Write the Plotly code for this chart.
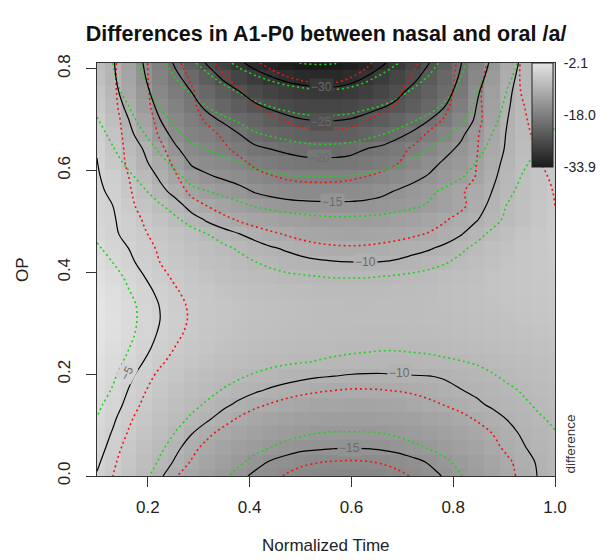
import numpy as np
import plotly.graph_objects as go

# ---- grid coordinates (Normalized Time, OP) ----
x_grid = [0.1, 0.131, 0.162, 0.193, 0.224, 0.255, 0.286, 0.317, 0.348, 0.379,
          0.41, 0.441, 0.472, 0.503, 0.534, 0.566, 0.597, 0.628, 0.659, 0.69,
          0.721, 0.752, 0.783, 0.814, 0.845, 0.876, 0.907, 0.938, 0.969, 1.0]
y_grid = [0.0, 0.028, 0.056, 0.084, 0.112, 0.14, 0.168, 0.196, 0.224, 0.252,
          0.28, 0.308, 0.336, 0.364, 0.392, 0.419, 0.447, 0.475, 0.503, 0.531,
          0.559, 0.587, 0.615, 0.643, 0.671, 0.699, 0.727, 0.755, 0.783, 0.811]

# ---- estimated difference surface (rows = OP, cols = time) ----
diff_rows = [
    [-5.1,-6.0,-7.3,-8.6,-9.8,-10.9,-11.9,-12.8,-13.7,-14.6,-15.3,-15.7,-16.1,-16.4,-16.6,-16.75,-16.85,-16.8,-16.6,-16.3,-15.9,-15.4,-14.9,-14.1,-13.2,-12.3,-11.4,-10.6,-9.9,-9.3],
    [-4.8,-5.7,-6.9,-8.1,-9.2,-10.2,-11.1,-12.0,-12.9,-13.7,-14.5,-15.1,-15.5,-15.8,-15.95,-16.05,-16.1,-16.05,-15.9,-15.65,-15.3,-14.9,-14.3,-13.6,-12.8,-12.0,-11.2,-10.5,-9.8,-9.2],
    [-4.5,-5.4,-6.5,-7.6,-8.7,-9.7,-10.6,-11.4,-12.2,-12.9,-13.5,-14.0,-14.4,-14.7,-14.8,-14.9,-14.95,-14.9,-14.8,-14.6,-14.3,-13.9,-13.4,-12.8,-12.1,-11.4,-10.7,-10.1,-9.5,-9.1],
    [-4.25,-5.1,-6.1,-7.1,-8.1,-9.1,-9.95,-10.7,-11.4,-12.0,-12.6,-13.1,-13.5,-13.8,-14.0,-14.1,-14.1,-14.1,-14.0,-13.8,-13.5,-13.1,-12.7,-12.2,-11.6,-11.0,-10.4,-9.8,-9.3,-9.0],
    [-4.0,-4.8,-5.75,-6.7,-7.6,-8.45,-9.25,-9.85,-10.5,-11.15,-11.7,-12.15,-12.5,-12.8,-13.0,-13.1,-13.1,-13.1,-13.0,-12.85,-12.6,-12.25,-11.85,-11.4,-10.9,-10.4,-9.95,-9.45,-9.1,-8.8],
    [-3.7,-4.45,-5.35,-6.25,-7.1,-7.9,-8.6,-9.2,-9.75,-10.25,-10.7,-11.1,-11.45,-11.75,-11.95,-12.05,-12.1,-12.1,-12.0,-11.85,-11.6,-11.3,-10.95,-10.6,-10.2,-9.85,-9.5,-9.15,-8.85,-8.6],
    [-3.35,-4.1,-5.05,-5.9,-6.7,-7.4,-8.05,-8.6,-9.1,-9.5,-9.85,-10.15,-10.4,-10.65,-10.85,-11.0,-11.1,-11.1,-11.05,-10.95,-10.8,-10.55,-10.3,-10.05,-9.8,-9.5,-9.2,-8.9,-8.6,-8.3],
    [-3.0,-3.8,-4.7,-5.55,-6.3,-6.95,-7.55,-8.05,-8.5,-8.85,-9.15,-9.4,-9.6,-9.75,-9.9,-10.0,-10.1,-10.15,-10.15,-10.1,-10.05,-10.02,-9.9,-9.65,-9.4,-9.1,-8.8,-8.5,-8.25,-8.0],
    [-2.7,-3.45,-4.3,-5.05,-5.8,-6.45,-7.0,-7.5,-7.9,-8.25,-8.5,-8.7,-8.85,-8.95,-9.05,-9.15,-9.25,-9.3,-9.35,-9.35,-9.3,-9.25,-9.15,-9.05,-8.9,-8.7,-8.45,-8.2,-7.95,-7.7],
    [-2.4,-3.15,-3.95,-4.7,-5.4,-6.05,-6.6,-7.05,-7.45,-7.8,-8.05,-8.25,-8.4,-8.55,-8.65,-8.75,-8.8,-8.85,-8.9,-8.9,-8.85,-8.8,-8.7,-8.55,-8.4,-8.2,-8.0,-7.8,-7.6,-7.4],
    [-2.2,-2.9,-3.7,-4.45,-5.15,-5.75,-6.3,-6.75,-7.15,-7.45,-7.7,-7.9,-8.05,-8.2,-8.3,-8.4,-8.45,-8.5,-8.5,-8.5,-8.45,-8.4,-8.3,-8.15,-8.0,-7.8,-7.6,-7.4,-7.25,-7.1],
    [-2.1,-2.8,-3.6,-4.35,-5.0,-5.6,-6.15,-6.6,-7.0,-7.3,-7.55,-7.75,-7.95,-8.1,-8.2,-8.25,-8.3,-8.3,-8.3,-8.3,-8.25,-8.15,-8.05,-7.9,-7.75,-7.55,-7.4,-7.2,-7.05,-6.9],
    [-2.15,-2.85,-3.65,-4.4,-5.05,-5.65,-6.2,-6.65,-7.05,-7.35,-7.6,-7.8,-8.0,-8.15,-8.25,-8.3,-8.35,-8.35,-8.3,-8.25,-8.2,-8.1,-7.95,-7.8,-7.6,-7.4,-7.2,-7.0,-6.85,-6.7],
    [-2.4,-3.1,-3.95,-4.65,-5.3,-5.9,-6.45,-6.9,-7.3,-7.6,-7.85,-8.1,-8.3,-8.45,-8.55,-8.6,-8.6,-8.6,-8.55,-8.45,-8.35,-8.2,-8.0,-7.8,-7.55,-7.3,-7.05,-6.85,-6.65,-6.5],
    [-2.8,-3.5,-4.3,-5.0,-5.65,-6.25,-6.8,-7.3,-7.7,-8.05,-8.35,-8.6,-8.8,-8.9,-9.0,-9.05,-9.05,-9.05,-9.0,-8.9,-8.75,-8.55,-8.3,-8.0,-7.7,-7.35,-7.05,-6.75,-6.5,-6.35],
    [-3.2,-3.95,-4.7,-5.4,-6.05,-6.65,-7.2,-7.7,-8.15,-8.55,-8.9,-9.2,-9.45,-9.65,-9.8,-9.9,-9.95,-9.97,-9.95,-9.85,-9.65,-9.4,-9.05,-8.6,-8.15,-7.65,-7.2,-6.8,-6.45,-6.2],
    [-3.7,-4.4,-5.0,-5.65,-6.3,-6.95,-7.55,-8.1,-8.6,-9.05,-9.45,-9.85,-10.15,-10.45,-10.7,-10.85,-10.9,-10.85,-10.7,-10.5,-10.3,-10.1,-9.75,-9.2,-8.6,-8.0,-7.4,-6.9,-6.45,-6.1],
    [-4.1,-4.75,-5.4,-6.05,-6.75,-7.45,-8.15,-8.8,-9.4,-9.95,-10.45,-10.9,-11.3,-11.65,-11.9,-12.05,-12.1,-12.05,-11.9,-11.7,-11.4,-11.1,-10.6,-10.1,-9.35,-8.6,-7.85,-7.2,-6.55,-6.0],
    [-4.4,-4.85,-5.6,-6.5,-7.45,-8.35,-9.3,-10.2,-10.9,-11.5,-12.0,-12.4,-12.75,-13.0,-13.2,-13.3,-13.3,-13.25,-13.1,-12.85,-12.5,-12.05,-11.45,-10.75,-10.1,-9.3,-8.5,-7.7,-6.9,-6.05],
    [-4.6,-5.0,-6.1,-7.2,-8.25,-9.3,-10.7,-11.6,-12.3,-12.95,-13.6,-14.0,-14.3,-14.45,-14.55,-14.6,-14.6,-14.5,-14.35,-14.1,-13.75,-13.25,-12.6,-11.85,-10.7,-9.6,-8.6,-7.7,-6.9,-6.15],
    [-4.75,-5.25,-6.6,-7.9,-9.4,-10.7,-12.4,-13.1,-13.7,-14.35,-15.15,-15.6,-15.9,-16.05,-16.1,-16.1,-16.0,-15.8,-15.4,-14.85,-14.3,-13.6,-12.8,-11.95,-11.1,-10.0,-8.9,-7.9,-7.0,-6.25],
    [-4.85,-5.55,-7.2,-8.7,-10.3,-12.0,-13.8,-14.7,-15.25,-15.8,-16.6,-17.1,-17.45,-17.65,-17.7,-17.65,-17.5,-17.2,-16.8,-16.2,-15.5,-14.8,-13.95,-13.1,-11.95,-10.4,-9.1,-8.0,-7.1,-6.35],
    [-4.95,-6.3,-8.0,-9.6,-11.3,-13.3,-15.3,-15.9,-16.5,-17.2,-18.1,-18.6,-19.0,-19.3,-19.4,-19.35,-19.2,-18.9,-18.45,-17.8,-16.8,-15.7,-14.7,-13.9,-12.5,-10.85,-9.3,-8.1,-7.2,-6.5],
    [-5.1,-6.8,-8.6,-10.2,-12.5,-14.7,-16.3,-17.0,-17.8,-18.7,-19.6,-20.05,-20.5,-20.9,-21.15,-21.1,-20.8,-20.05,-19.6,-18.8,-17.9,-16.9,-15.7,-14.6,-13.1,-11.4,-9.6,-8.3,-7.4,-6.65],
    [-5.5,-7.3,-9.3,-11.4,-13.9,-15.9,-17.3,-18.0,-18.9,-19.95,-21.1,-21.7,-22.3,-22.8,-23.05,-23.1,-22.85,-22.3,-21.5,-20.6,-19.6,-18.3,-17.0,-15.5,-13.7,-11.7,-9.75,-8.5,-7.6,-6.8],
    [-6.0,-7.9,-9.95,-12.4,-14.95,-16.7,-18.2,-19.35,-20.3,-21.3,-22.3,-23.3,-24.2,-24.85,-25.1,-25.1,-24.85,-24.2,-23.3,-22.3,-21.2,-20.05,-18.75,-16.9,-14.6,-12.3,-10.0,-8.7,-7.75,-6.95],
    [-6.6,-8.6,-10.7,-13.5,-15.8,-17.6,-19.2,-20.55,-21.9,-23.3,-24.6,-25.6,-26.4,-26.95,-27.2,-27.15,-26.75,-26.1,-25.35,-24.45,-23.2,-21.7,-20.1,-18.1,-15.05,-12.6,-10.2,-8.9,-7.9,-7.1],
    [-7.2,-9.1,-11.5,-14.2,-16.6,-18.6,-20.05,-21.6,-23.3,-24.95,-26.3,-27.4,-28.3,-28.9,-29.25,-29.3,-28.9,-28.1,-27.0,-25.7,-24.25,-22.7,-21.0,-19.1,-15.6,-12.9,-10.4,-9.0,-8.0,-7.2],
    [-7.8,-9.5,-12.0,-14.8,-17.3,-19.4,-21.3,-23.3,-25.5,-27.3,-28.7,-29.85,-30.8,-31.35,-31.6,-31.5,-31.0,-29.95,-28.6,-27.2,-25.7,-23.9,-21.8,-19.7,-16.6,-13.6,-10.75,-9.2,-8.15,-7.35],
    [-8.4,-9.7,-12.5,-15.25,-17.9,-20.5,-22.9,-25.35,-27.5,-29.5,-31.0,-32.2,-33.1,-33.7,-33.9,-33.75,-33.1,-32.0,-30.5,-28.8,-27.0,-25.1,-22.9,-20.2,-17.35,-14.4,-11.3,-9.4,-8.25,-7.5],
]

# ---- estimated confidence half-width of the difference (rows = OP) ----
ci_rows = [
    [1.05,1.0,1.0,1.0,1.0,1.0,1.0,1.0,1.0,1.0,1.0,1.0,1.0,1.0,1.0,1.0,1.0,1.0,1.0,1.0,1.0,1.0,1.0,1.0,1.0,1.0,1.0,1.0,1.0,1.05],
    [1.05,1.0,1.0,1.0,1.0,1.0,1.0,1.0,1.0,1.0,1.0,1.0,1.0,1.0,1.0,1.0,1.0,1.0,1.0,1.0,1.0,1.0,1.0,1.0,1.0,1.0,1.0,1.0,1.0,1.05],
    [1.05,1.0,1.0,1.0,1.0,1.0,1.0,1.0,1.0,1.0,1.0,1.0,1.0,1.0,1.0,1.0,1.0,1.0,1.0,1.0,1.0,1.0,1.0,1.0,1.0,1.0,1.0,1.0,1.0,1.05],
    [1.05,1.0,1.0,1.0,1.0,1.0,1.0,1.0,1.0,1.0,1.0,1.0,1.0,1.0,1.0,1.0,1.0,1.0,1.0,1.0,1.0,1.0,1.0,1.0,1.0,1.0,1.0,1.0,1.0,1.05],
    [1.05,1.0,1.0,1.0,1.0,1.0,1.0,1.0,1.0,1.0,1.0,1.0,1.0,1.0,1.0,1.0,1.0,1.0,1.0,1.0,1.0,1.0,1.0,1.0,1.0,1.0,1.0,1.0,1.0,1.05],
    [1.05,1.0,1.0,1.0,1.0,1.0,1.0,1.0,1.0,1.0,1.0,1.0,1.0,1.0,1.0,1.0,1.0,1.0,1.0,1.0,1.0,1.0,1.0,1.0,1.0,1.0,1.0,1.0,1.0,1.05],
    [1.05,1.0,1.0,1.0,1.0,1.0,1.0,1.0,1.0,1.0,1.0,1.0,1.0,1.0,1.0,1.0,1.0,1.0,1.0,1.0,1.0,1.0,1.0,1.0,1.0,1.0,1.0,1.0,1.0,1.05],
    [1.05,1.0,1.0,1.0,1.0,1.0,1.0,1.0,1.0,1.0,1.0,1.0,1.0,1.0,1.0,1.0,1.0,1.0,1.0,1.0,1.0,1.0,1.0,1.0,1.0,1.0,1.0,1.0,1.0,1.05],
    [1.05,1.0,1.0,1.0,1.0,1.0,1.0,1.0,1.0,1.0,1.0,1.0,1.0,1.0,1.0,1.0,1.0,1.0,1.0,1.0,1.0,1.0,1.0,1.0,1.0,1.0,1.0,1.0,1.0,1.05],
    [1.05,1.0,1.0,1.0,1.0,1.0,1.0,1.0,1.0,1.0,1.0,1.0,1.0,1.0,1.0,1.0,1.0,1.0,1.0,1.0,1.0,1.0,1.0,1.0,1.0,1.0,1.0,1.0,1.0,1.05],
    [1.05,1.0,1.0,1.0,1.0,1.0,1.0,1.0,1.0,1.0,1.0,1.0,1.0,1.0,1.0,1.0,1.0,1.0,1.0,1.0,1.0,1.0,1.0,1.0,1.0,1.0,1.0,1.0,1.0,1.05],
    [1.05,1.0,1.0,1.0,1.0,1.0,1.0,1.0,1.0,1.0,1.0,1.0,1.0,1.0,1.0,1.0,1.0,1.0,1.0,1.0,1.0,1.0,1.0,1.0,1.0,1.0,1.0,1.0,1.0,1.05],
    [1.05,1.0,1.0,1.0,1.0,1.0,1.0,1.0,1.0,1.0,1.0,1.0,1.0,1.0,1.0,1.0,1.0,1.0,1.0,1.0,1.0,1.0,1.0,1.0,1.0,1.0,1.0,1.0,1.0,1.05],
    [1.05,1.0,1.0,1.0,1.0,1.0,1.0,1.0,1.0,1.0,1.0,1.0,1.0,1.0,1.0,1.0,1.0,1.0,1.0,1.0,1.0,1.0,1.0,1.0,1.0,1.0,1.0,1.0,1.0,1.05],
    [1.05,1.0,1.0,1.0,1.0,1.0,1.0,1.0,1.0,1.0,1.0,1.0,1.0,1.0,1.0,1.0,1.0,1.0,1.0,1.0,1.0,1.0,1.0,1.0,1.0,1.0,1.0,1.0,1.0,1.05],
    [1.05,1.05,1.05,1.05,1.05,1.05,1.05,1.05,1.05,1.05,1.05,1.05,1.05,1.05,1.05,1.05,1.05,1.05,1.05,1.05,1.05,1.05,1.05,1.04,1.04,1.03,1.02,1.02,1.01,1.0],
    [1.1,1.1,1.1,1.1,1.1,1.1,1.1,1.1,1.1,1.1,1.1,1.1,1.1,1.1,1.1,1.1,1.1,1.1,1.1,1.1,1.1,1.1,1.09,1.08,1.06,1.05,1.04,1.03,1.01,1.0],
    [1.2,1.2,1.2,1.2,1.2,1.2,1.2,1.2,1.2,1.2,1.2,1.2,1.2,1.2,1.2,1.2,1.2,1.2,1.2,1.2,1.2,1.2,1.18,1.15,1.13,1.1,1.08,1.05,1.03,1.0],
    [1.35,1.35,1.35,1.35,1.35,1.35,1.35,1.35,1.35,1.35,1.35,1.35,1.35,1.35,1.35,1.35,1.35,1.35,1.35,1.35,1.35,1.35,1.31,1.28,1.24,1.2,1.16,1.13,1.09,1.05],
    [1.55,1.55,1.55,1.55,1.55,1.55,1.55,1.55,1.55,1.55,1.55,1.55,1.55,1.55,1.55,1.55,1.55,1.55,1.55,1.55,1.55,1.55,1.5,1.45,1.4,1.35,1.3,1.25,1.2,1.15],
    [1.85,1.85,1.85,1.85,1.85,1.85,1.85,1.85,1.85,1.85,1.85,1.85,1.85,1.85,1.85,1.85,1.85,1.85,1.85,1.85,1.85,1.85,1.79,1.73,1.66,1.6,1.54,1.48,1.41,1.35],
    [2.2,2.21,2.22,2.23,2.23,2.24,2.25,2.25,2.25,2.25,2.25,2.25,2.25,2.25,2.25,2.25,2.25,2.25,2.25,2.25,2.25,2.25,2.18,2.1,2.03,1.95,1.88,1.8,1.73,1.65],
    [2.6,2.62,2.63,2.65,2.67,2.68,2.7,2.7,2.7,2.7,2.7,2.7,2.7,2.7,2.7,2.7,2.7,2.7,2.7,2.7,2.7,2.7,2.62,2.54,2.46,2.38,2.29,2.21,2.13,2.05],
    [3.0,3.03,3.05,3.08,3.1,3.13,3.15,3.15,3.15,3.15,3.15,3.15,3.15,3.15,3.15,3.15,3.15,3.15,3.15,3.15,3.15,3.15,3.07,2.99,2.91,2.83,2.74,2.66,2.58,2.5],
    [3.4,3.43,3.47,3.5,3.53,3.57,3.6,3.6,3.6,3.6,3.6,3.6,3.6,3.6,3.6,3.6,3.6,3.6,3.6,3.6,3.6,3.6,3.52,3.44,3.36,3.28,3.19,3.11,3.03,2.95],
    [3.8,3.84,3.88,3.93,3.97,4.01,4.05,4.05,4.05,4.05,4.05,4.05,4.05,4.05,4.05,4.05,4.05,4.05,4.05,4.05,4.05,4.05,3.96,3.86,3.77,3.68,3.58,3.49,3.39,3.3],
    [4.15,4.23,4.3,4.38,4.45,4.53,4.6,4.6,4.6,4.6,4.6,4.6,4.6,4.6,4.6,4.6,4.6,4.6,4.6,4.6,4.6,4.6,4.48,4.35,4.23,4.1,3.98,3.85,3.73,3.6],
    [4.5,4.63,4.77,4.9,5.03,5.17,5.3,5.3,5.3,5.3,5.3,5.3,5.3,5.3,5.3,5.3,5.3,5.3,5.3,5.3,5.3,5.3,5.12,4.94,4.76,4.58,4.39,4.21,4.03,3.85],
    [4.8,4.98,5.17,5.35,5.53,5.72,5.9,5.9,5.9,5.9,5.9,5.9,5.9,5.9,5.9,5.9,5.9,5.9,5.9,5.9,5.9,5.9,5.67,5.44,5.21,4.98,4.74,4.51,4.28,4.05],
    [5.1,5.32,5.53,5.75,5.97,6.18,6.4,6.4,6.4,6.4,6.4,6.4,6.4,6.4,6.4,6.4,6.4,6.4,6.4,6.4,6.4,6.4,6.13,5.85,5.58,5.3,5.03,4.75,4.48,4.2],
]

x_ticks = [0.2, 0.4, 0.6, 0.8, 1.0]
x_ticklabels = ["0.2", "0.4", "0.6", "0.8", "1.0"]
y_ticks = [0.0, 0.2, 0.4, 0.6, 0.8]
y_ticklabels = ["0.0", "0.2", "0.4", "0.6", "0.8"]
legend_vals = [-33.9, -18.0, -2.1]
legend_labels = ["-33.9", "-18.0", "-2.1"]

# contour label levels and where R put them (layout only)
label_levels = [-5, -10, -10, -15, -15, -20, -25, -30]
label_pos_x = [0.159, 0.627, 0.695, 0.562, 0.597, 0.538, 0.542, 0.542]
label_pos_y = [0.202, 0.420, 0.202, 0.539, 0.055, 0.624, 0.696, 0.763]
label_angle = [-62, 0, 0, 0, 0, 0, 0, 0]

z = np.array(diff_rows, dtype=float)
ci = np.array(ci_rows, dtype=float)
z_hi = z + ci
z_lo = z - ci

FONT = "Liberation Sans, Arial, sans-serif"
ZMIN, ZMAX = legend_vals[0], legend_vals[-1]
G0, G1 = 26, 228
xa = np.array(x_grid)
ya = np.array(y_grid)


def cell_gray(px, py):
    v = z[int(np.argmin(np.abs(ya - py))), int(np.argmin(np.abs(xa - px)))]
    g = int(round(G0 + (v - ZMIN) / (ZMAX - ZMIN) * (G1 - G0)))
    return f"rgb({g},{g},{g})"


fig = go.Figure()

fig.add_trace(go.Heatmap(
    x=x_grid, y=y_grid, z=z,
    zmin=ZMIN, zmax=ZMAX,
    colorscale=[[0.0, f"rgb({G0},{G0},{G0})"], [1.0, f"rgb({G1},{G1},{G1})"]],
    zsmooth=False, hoverinfo="skip",
    colorbar=dict(
        x=(532 - 97) / 458, xanchor="left", xref="paper", xpad=0,
        y=1.0, yanchor="top", yref="paper", ypad=0,
        len=104, lenmode="pixels", thickness=21, thicknessmode="pixels",
        outlinewidth=1, outlinecolor="#222",
        tickvals=legend_vals, ticktext=legend_labels,
        ticks="outside", ticklen=8, tickcolor="rgba(0,0,0,0)",
        tickfont=dict(family=FONT, size=14, color="#222"),
    ),
))

# upper CI surface (red dotted) and lower CI surface (green dotted)
fig.add_trace(go.Contour(
    x=x_grid, y=y_grid, z=z_hi, showscale=False, hoverinfo="skip",
    contours=dict(start=-40, end=-5, size=5, coloring="none"),
    line=dict(color="rgb(240,20,20)", width=1.6, dash="2px,3px", smoothing=1.0),
))
fig.add_trace(go.Contour(
    x=x_grid, y=y_grid, z=z_lo, showscale=False, hoverinfo="skip",
    contours=dict(start=-40, end=-5, size=5, coloring="none"),
    line=dict(color="rgb(30,210,30)", width=1.6, dash="2px,3px", smoothing=1.0),
))
# fitted surface contours (black)
fig.add_trace(go.Contour(
    x=x_grid, y=y_grid, z=z, showscale=False, hoverinfo="skip",
    contours=dict(start=-30, end=-5, size=5, coloring="none"),
    line=dict(color="black", width=1.2, smoothing=1.0),
))

# contour labels (break the line like R does)
for lv, lx, ly, la in zip(label_levels, label_pos_x, label_pos_y, label_angle):
    fig.add_annotation(x=lx, y=ly, xref="x", yref="y", showarrow=False,
                       text="\u2212" + str(abs(lv)), textangle=la,
                       font=dict(family=FONT, size=12, color="#6a6a6a"),
                       bgcolor=cell_gray(lx, ly), borderpad=1,
                       xanchor="center", yanchor="middle")

# line across legend at the middle value
mid_y = 1 - 52 / 413
fig.add_shape(type="line", xref="paper", yref="paper",
              x0=(532 - 97) / 458, x1=(553 - 97) / 458, y0=mid_y, y1=mid_y,
              line=dict(color="black", width=1.2))

axis_common = dict(
    showgrid=False, zeroline=False, showline=True, mirror=True,
    linecolor="#333", linewidth=1, ticks="outside", ticklen=10,
    tickcolor="#333", tickwidth=1,
    tickfont=dict(family=FONT, size=17, color="#222"),
)
fig.update_xaxes(range=[0.1, 1.0], tickvals=x_ticks, ticktext=x_ticklabels,
                 ticklabelstandoff=6, **axis_common)
fig.update_yaxes(range=[0.0, 0.811], tickvals=y_ticks, ticktext=y_ticklabels,
                 tickangle=-90, ticklabelstandoff=9, **axis_common)

fig.add_annotation(text="Normalized Time", xref="paper", yref="paper",
                   x=0.5, y=(476 - 545) / 413, showarrow=False,
                   xanchor="center", yanchor="middle",
                   font=dict(family=FONT, size=17, color="#222"))
fig.add_annotation(text="OP", xref="paper", yref="paper",
                   x=(22.5 - 97) / 458, y=0.5, showarrow=False, textangle=-90,
                   xanchor="center", yanchor="middle",
                   font=dict(family=FONT, size=17, color="#222"))
fig.add_annotation(text="difference", xref="paper", yref="paper",
                   x=(570 - 97) / 458, y=0.0, showarrow=False, textangle=-90,
                   xanchor="center", yanchor="bottom",
                   font=dict(family=FONT, size=13.5, color="#333"))

fig.update_layout(
    width=609, height=560,
    margin=dict(l=97, r=54, t=63, b=84, autoexpand=False),
    paper_bgcolor="white", plot_bgcolor="white",
    showlegend=False,
    title=dict(text="<b>Differences in A1-P0 between nasal and oral /a/</b>",
               x=0.5, xref="paper", xanchor="center",
               y=1 - 33 / 560, yref="container", yanchor="middle",
               font=dict(family=FONT, size=21.5, color="#111")),
)

fig.write_html("out.html",
               config={"displayModeBar": False},
               post_script="document.body.style.margin='0px';"
                           "document.body.style.padding='0px';")
